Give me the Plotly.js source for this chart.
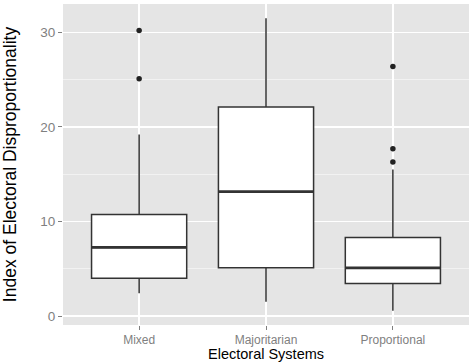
<!DOCTYPE html>
<html>
<head>
<meta charset="utf-8">
<script src="https://cdn.plot.ly/plotly-3.0.1.min.js"></script>
<style>html,body{margin:0;padding:0;background:#fff;}#chart{width:469px;height:364px;}</style>
</head>
<body>
<div id="chart"></div>
<script>
var categories = ["Mixed", "Majoritarian", "Proportional"];
var lowerWhisker = [2.4, 1.5, 0.55];
var q1 = [4.0, 5.1, 3.45];
var medians = [7.25, 13.15, 5.1];
var q3 = [10.75, 22.1, 8.3];
var upperWhisker = [19.2, 31.5, 15.5];
var outlierCategory = ["Mixed", "Mixed", "Proportional", "Proportional", "Proportional"];
var outlierValues = [30.2, 25.1, 26.4, 17.7, 16.3];
var yTicks = [0, 10, 20, 30];
var xTitle = "Electoral Systems";
var yTitle = "Index of Electoral Disproportionality";

var boxWidth = 0.75;
var lineColor = "#333333";
var font = "Liberation Sans, Arial, sans-serif";

var traces = [
  {
    type: "box",
    x: categories,
    q1: q1,
    median: medians,
    q3: q3,
    lowerfence: lowerWhisker,
    upperfence: upperWhisker,
    width: boxWidth,
    whiskerwidth: 0,
    fillcolor: "#ffffff",
    line: {color: lineColor, width: 1.5},
    boxpoints: false,
    showlegend: false,
    hoverinfo: "skip"
  },
  {
    type: "scatter",
    mode: "markers",
    x: outlierCategory,
    y: outlierValues,
    marker: {color: "#222222", size: 5.5},
    showlegend: false,
    hoverinfo: "skip"
  }
];

var shapes = medians.map(function (m, i) {
  return {
    type: "line", xref: "x", yref: "y",
    x0: i - boxWidth / 2, x1: i + boxWidth / 2, y0: m, y1: m,
    line: {color: lineColor, width: 2.8}
  };
});

var layout = {
  width: 469, height: 364,
  margin: {l: 63, r: 0, t: 4, b: 39},
  paper_bgcolor: "#ffffff",
  plot_bgcolor: "#e5e5e5",
  font: {family: font, color: "#000000"},
  shapes: shapes,
  annotations: [{
    text: xTitle, xref: "paper", yref: "paper", x: 0.5, y: 0,
    xanchor: "center", yanchor: "bottom", yshift: -39, showarrow: false,
    font: {family: font, size: 14.5, color: "#000000"}
  }],
  xaxis: {
    type: "category",
    categoryorder: "array",
    categoryarray: categories,
    range: [-0.6, 2.6],
    showgrid: true, gridcolor: "#ffffff", gridwidth: 1.3,
    zeroline: false, showline: false,
    ticks: "outside", ticklen: 4, tickwidth: 1, tickcolor: "#7f7f7f",
    tickfont: {family: font, size: 12, color: "#7f7f7f"}
  },
  yaxis: {
    range: [-0.95, 33.0],
    tickvals: yTicks,
    showgrid: true, gridcolor: "#ffffff", gridwidth: 1.3,
    minor: {dtick: 5, tick0: 5, showgrid: true, gridcolor: "#f2f2f2", gridwidth: 1, ticks: ""},
    zeroline: false, showline: false,
    ticks: "outside", ticklen: 4, tickwidth: 1, tickcolor: "#7f7f7f",
    tickfont: {family: font, size: 13.5, color: "#7f7f7f"},
    title: {text: yTitle, font: {family: font, size: 17.5, color: "#000000"}, standoff: 20}
  }
};

Plotly.newPlot("chart", traces, layout, {staticPlot: true, displayModeBar: false});
</script>
</body>
</html>
